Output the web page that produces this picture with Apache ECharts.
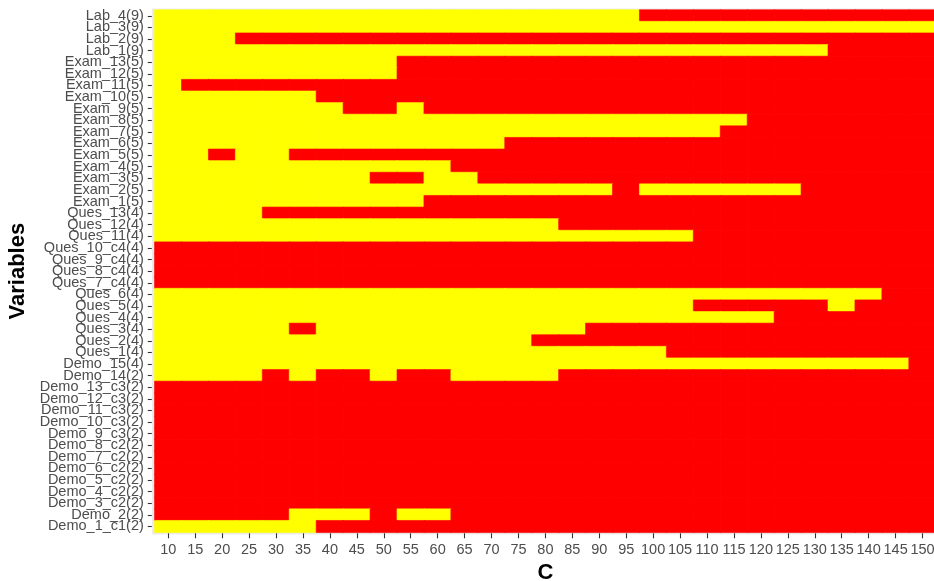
<!DOCTYPE html>
<html>
<head>
<meta charset="utf-8">
<script src="https://cdn.jsdelivr.net/npm/echarts@6/dist/echarts.min.js"></script>
<style>
  html, body { margin: 0; padding: 0; background: #ffffff; }
  #chart { width: 934px; height: 581px; }
</style>
</head>
<body>
<div id="chart"></div>
<script>
// Column categories (C) — tick labels
const cValues = ['10','15','20','25','30','35','40','45','50','55','60','65','70','75','80',
                 '85','90','95','100','105','110','115','120','125','130','135','140','145','150'];

// Variables, listed top to bottom as in the picture
const variables = [
  'Lab_4(9)','Lab_3(9)','Lab_2(9)','Lab_1(9)',
  'Exam_13(5)','Exam_12(5)','Exam_11(5)','Exam_10(5)','Exam_9(5)','Exam_8(5)','Exam_7(5)',
  'Exam_6(5)','Exam_5(5)','Exam_4(5)','Exam_3(5)','Exam_2(5)','Exam_1(5)',
  'Ques_13(4)','Ques_12(4)','Ques_11(4)','Ques_10_c4(4)','Ques_9_c4(4)','Ques_8_c4(4)','Ques_7_c4(4)',
  'Ques_6(4)','Ques_5(4)','Ques_4(4)','Ques_3(4)','Ques_2(4)','Ques_1(4)',
  'Demo_15(4)','Demo_14(2)','Demo_13_c3(2)','Demo_12_c3(2)','Demo_11_c3(2)','Demo_10_c3(2)','Demo_9_c3(2)',
  'Demo_8_c2(2)','Demo_7_c2(2)','Demo_6_c2(2)','Demo_5_c2(2)','Demo_4_c2(2)','Demo_3_c2(2)',
  'Demo_2(2)','Demo_1_c1(2)'
];

// Cell status per variable (1 = yellow, 0 = red), one char per C column (groups of 5 columns)
const labRows = [
  '11111 11111 11111 11100 00000 0000', // Lab_4
  '11111 11111 11111 11111 11111 1111', // Lab_3
  '11100 00000 00000 00000 00000 0000', // Lab_2
  '11111 11111 11111 11111 11111 0000'  // Lab_1
];
const examRows = [
  '11111 11110 00000 00000 00000 0000', // Exam_13
  '11111 11110 00000 00000 00000 0000', // Exam_12
  '10000 00000 00000 00000 00000 0000', // Exam_11
  '11111 10000 00000 00000 00000 0000', // Exam_10
  '11111 11001 00000 00000 00000 0000', // Exam_9
  '11111 11111 11111 11111 11000 0000', // Exam_8
  '11111 11111 11111 11111 10000 0000', // Exam_7
  '11111 11111 11100 00000 00000 0000', // Exam_6
  '11011 00000 00000 00000 00000 0000', // Exam_5
  '11111 11111 10000 00000 00000 0000', // Exam_4
  '11111 11100 11000 00000 00000 0000', // Exam_3
  '11111 11111 11111 11011 11110 0000', // Exam_2
  '11111 11111 00000 00000 00000 0000'  // Exam_1
];
const quesRows = [
  '11110 00000 00000 00000 00000 0000', // Ques_13
  '11111 11111 11111 00000 00000 0000', // Ques_12
  '11111 11111 11111 11111 00000 0000', // Ques_11
  '00000 00000 00000 00000 00000 0000', // Ques_10_c4
  '00000 00000 00000 00000 00000 0000', // Ques_9_c4
  '00000 00000 00000 00000 00000 0000', // Ques_8_c4
  '00000 00000 00000 00000 00000 0000', // Ques_7_c4
  '11111 11111 11111 11111 11111 1100', // Ques_6
  '11111 11111 11111 11111 00000 1000', // Ques_5
  '11111 11111 11111 11111 11100 0000', // Ques_4
  '11111 01111 11111 10000 00000 0000', // Ques_3
  '11111 11111 11110 00000 00000 0000', // Ques_2
  '11111 11111 11111 11110 00000 0000'  // Ques_1
];
const demoRows = [
  '11111 11111 11111 11111 11111 1110', // Demo_15
  '11110 10010 01111 00000 00000 0000', // Demo_14
  '00000 00000 00000 00000 00000 0000', // Demo_13_c3
  '00000 00000 00000 00000 00000 0000', // Demo_12_c3
  '00000 00000 00000 00000 00000 0000', // Demo_11_c3
  '00000 00000 00000 00000 00000 0000', // Demo_10_c3
  '00000 00000 00000 00000 00000 0000', // Demo_9_c3
  '00000 00000 00000 00000 00000 0000', // Demo_8_c2
  '00000 00000 00000 00000 00000 0000', // Demo_7_c2
  '00000 00000 00000 00000 00000 0000', // Demo_6_c2
  '00000 00000 00000 00000 00000 0000', // Demo_5_c2
  '00000 00000 00000 00000 00000 0000', // Demo_4_c2
  '00000 00000 00000 00000 00000 0000', // Demo_3_c2
  '00000 11101 10000 00000 00000 0000', // Demo_2
  '11111 10000 00000 00000 00000 0000'  // Demo_1_c1
];

// Colours for status 0 (red) and 1 (yellow)
const statusColors = ['#FF0000', '#FFFF00'];

const allRows = labRows.concat(examRows, quesRows, demoRows);
const heatData = [];
allRows.forEach(function (row, yi) {
  row.replace(/\s/g, '').split('').forEach(function (ch, xi) {
    const v = Number(ch);
    heatData.push({
      value: [xi, yi, v],
      itemStyle: { color: statusColors[v], borderColor: statusColors[v], borderWidth: 0.6 }
    });
  });
});

const chart = echarts.init(document.getElementById('chart'), null, { renderer: 'canvas' });
const FONT = '"Liberation Sans", Arial, Helvetica, sans-serif';

chart.setOption({
  animation: false,
  backgroundColor: '#ffffff',
  grid: { left: 154.8, top: 10, right: -2, bottom: 48.7, containLabel: false, outerBoundsMode: 'none' },
  graphic: [{
    type: 'rect', z: -10, silent: true,
    shape: { x: 152, y: 8.5, width: 790, height: 526 },
    style: { fill: '#EBEBEB' }
  }],
  xAxis: {
    type: 'category', data: cValues, position: 'bottom', offset: 1,
    name: 'C', nameLocation: 'middle', nameGap: 24,
    nameTextStyle: { fontFamily: FONT, fontSize: 22, fontWeight: 'bold', color: '#000000' },
    axisLine: { show: false },
    axisTick: { show: true, alignWithLabel: true, interval: 0, length: 5, lineStyle: { color: '#333333', width: 1.1 } },
    axisLabel: { interval: 0, margin: 9, fontFamily: FONT, fontSize: 14.5, color: '#4D4D4D', hideOverlap: false },
    splitLine: { show: false }
  },
  yAxis: {
    type: 'category', data: variables, inverse: true, offset: 3,
    name: 'Variables', nameLocation: 'middle', nameGap: 111, nameRotate: 90,
    nameTextStyle: { fontFamily: FONT, fontSize: 22, fontWeight: 'bold', color: '#000000' },
    axisLine: { show: false },
    axisTick: { show: true, alignWithLabel: true, interval: 0, length: 4, lineStyle: { color: '#333333', width: 1.1 } },
    axisLabel: { interval: 0, margin: 8, fontFamily: FONT, fontSize: 14.5, color: '#4D4D4D', hideOverlap: false },
    splitLine: { show: false }
  },
  series: [{
    type: 'heatmap',
    data: heatData,
    emphasis: { disabled: true },
    progressive: 0
  }]
});
</script>
</body>
</html>
